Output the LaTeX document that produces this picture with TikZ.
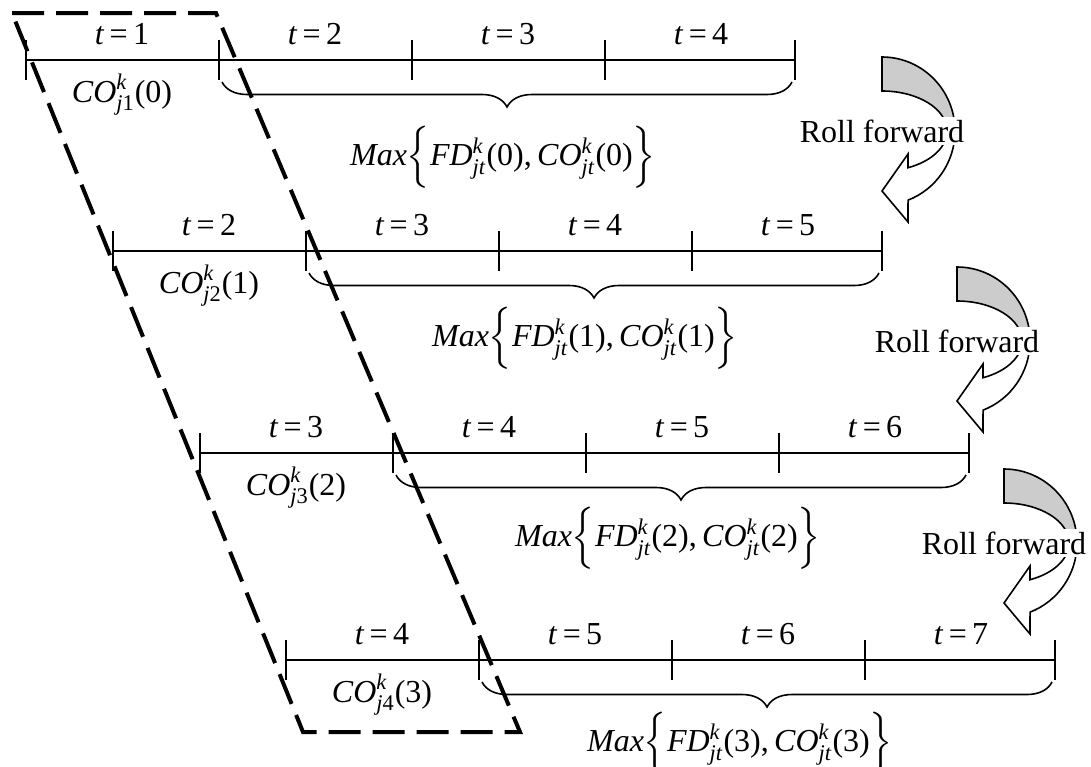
\documentclass[tikz,border=0pt]{standalone}
\usepackage{amsmath}
\usepackage{fontspec}
\setmainfont{Liberation Serif}
\usetikzlibrary{decorations.pathreplacing}

% symbol with superscript k and a subscript
\newcommand{\kvar}[2]{\textit{#1}$^{\text{\textit{k}}}_{\text{#2}}$}

\begin{document}
\begin{tikzpicture}[
  x=0.5pt, y=-0.5pt,
  font=\fontsize{16}{19}\selectfont,
  tline/.style={line width=1pt},
  brc/.style={decorate, decoration={brace, mirror, amplitude=12.5pt}, line width=0.8pt},
  window/.style={line width=2pt, dash pattern=on 16pt off 6pt},
  roll/.style={draw, line width=0.8pt},
  rolltext/.style={fill=white, inner sep=1.5pt}
]
\useasboundingbox (0,0) rectangle (1091,766);

% the four planning horizons
\foreach \r/\xs/\ys/\mx/\my in {0/26/60/503/157, 1/113/251/585/338, 2/200/453/668/538, 3/286/660/740/743}{
  \foreach \i in {0,...,3}
    \coordinate (p\r\i) at ({\xs+193*\i},\ys);
  \coordinate (p\r4) at ({\xs+769},\ys);
  \draw[tline] (p\r0) -- (p\r4);
  \foreach \i in {0,...,4}
    \draw[tline] ([yshift=10pt]p\r\i) -- ([yshift=-10pt]p\r\i);
  \foreach \i [evaluate=\i as \tv using int(\r+\i+1)] in {0,...,3}
    \node (t\r\i) at ({\xs+193*\i+96},{\ys-26}) {\textit{t}\,=\,\tv};
  \pgfmathtruncatemacro{\jn}{\r+1}
  \node (co\r) at ({\xs+96},{\ys+35}) {\kvar{CO}{\textit{j}\jn}(\r)};
  \draw[brc] ([xshift=1.5pt,yshift=-11pt]p\r1) -- ([xshift=-1.5pt,yshift=-11pt]p\r4);
  \node (mx\r) at (\mx,\my)
    {\textit{Max}$\Bigl\{$\kvar{FD}{\textit{jt}}(\r),\,\kvar{CO}{\textit{jt}}(\r)$\Bigr\}$};
}

% dashed window over the first periods
\coordinate (w1) at (12,13);
\coordinate (w2) at (216,13);
\coordinate (w3) at (520,732);
\coordinate (w4) at (303,732);
\draw[window] (w1) -- (w2) -- (w3) -- (w4) -- cycle;

% roll forward arrows
\foreach \n/\cx/\cy in {1/882/131, 2/957/341, 3/1004/543}{
  \begin{scope}[shift={(\cx,\cy)}]
    \draw[roll, fill=gray!40] (0,-74) arc[start angle=-90, end angle=0, x radius=73, y radius=74]
      -- (65,0) arc[start angle=0, end angle=-90, x radius=65, y radius=40] -- cycle;
    \draw[roll, fill=white] (73,0) arc[start angle=0, end angle=69.1, x radius=73, y radius=74]
      -- (26,91) -- (0,60) -- (26,23) -- (26,36.7)
      arc[start angle=66.4, end angle=0, x radius=65, y radius=40] -- cycle;
    \node[rolltext] (roll\n) at (0,0) {Roll forward};
  \end{scope}
}
\end{tikzpicture}
\end{document}
